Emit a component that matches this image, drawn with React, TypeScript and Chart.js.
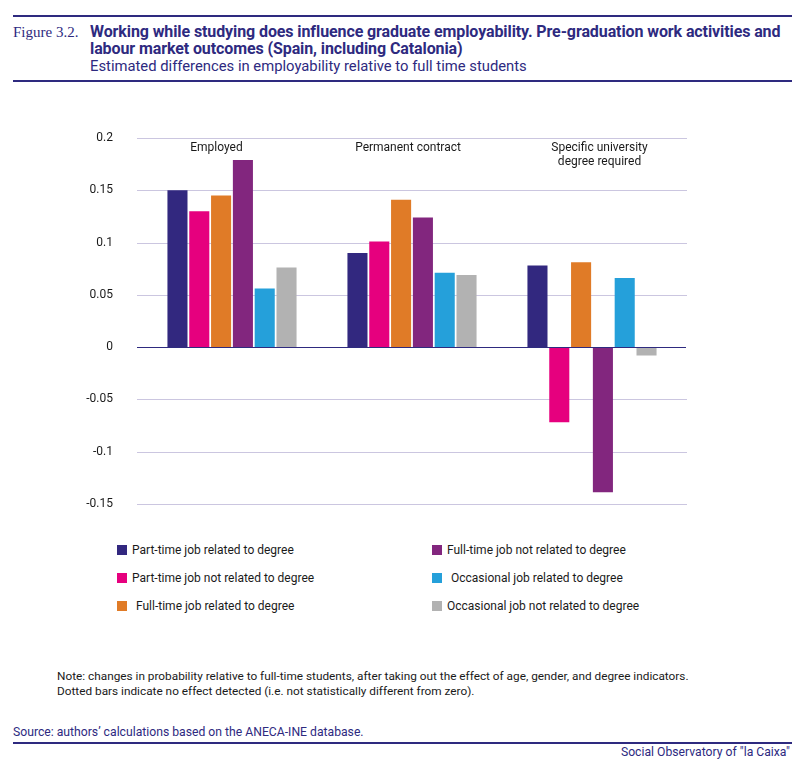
import { useEffect, useRef } from 'react';
import { Chart, registerables } from 'chart.js';

Chart.register(...registerables);

const categories = ['Employed', 'Permanent contract', 'Specific university degree required'];
const categoryLines = [['Employed'], ['Permanent contract'], ['Specific university', 'degree required']];

const seriesNames = [
  'Part-time job related to degree',
  'Part-time job not related to degree',
  'Full-time job related to degree',
  'Full-time job not related to degree',
  'Occasional job related to degree',
  'Occasional job not related to degree',
];
const seriesColors = ['#32287f', '#e6007e', '#e07b27', '#82267e', '#25a0da', '#b2b2b2'];

const partTimeRelated = [0.15, 0.09, 0.078];
const partTimeNotRelated = [0.13, 0.101, -0.072];
const fullTimeRelated = [0.145, 0.141, 0.081];
const fullTimeNotRelated = [0.179, 0.124, -0.139];
const occasionalRelated = [0.056, 0.071, 0.066];
const occasionalNotRelated = [0.076, 0.069, -0.008];

const seriesValues = [
  partTimeRelated,
  partTimeNotRelated,
  fullTimeRelated,
  fullTimeNotRelated,
  occasionalRelated,
  occasionalNotRelated,
];

const yMin = -0.15;
const yMax = 0.2;
const yStep = 0.05;

const NAVY = '#2e2a7f';
const FONT = 'Roboto, "Liberation Sans", sans-serif';

// grid lines that run a little past the plot edges, zero line in navy
const gridPlugin = {
  id: 'gridLines',
  beforeDatasetsDraw(chart: any) {
    const { ctx, chartArea, scales } = chart;
    const ys = scales.y;
    ctx.save();
    ys.ticks.forEach((t: any) => {
      const y = Math.round(ys.getPixelForValue(t.value)) + 0.5;
      if (Math.abs(t.value) < 1e-9) return;
      ctx.strokeStyle = '#cbc6e0';
      ctx.lineWidth = 1;
      ctx.beginPath();
      ctx.moveTo(chartArea.left - 5, y);
      ctx.lineTo(chartArea.right + 5, y);
      ctx.stroke();
    });
    ctx.restore();
  },
  afterDatasetsDraw(chart: any) {
    const { ctx, chartArea, scales } = chart;
    const y = Math.round(scales.y.getPixelForValue(0)) + 0.5;
    ctx.save();
    ctx.strokeStyle = NAVY;
    ctx.lineWidth = 1.2;
    ctx.beginPath();
    ctx.moveTo(chartArea.left - 5, y);
    ctx.lineTo(chartArea.right + 4, y);
    ctx.stroke();
    ctx.restore();
  },
};

// category titles written inside the plot, under the top grid line
const categoryLabelPlugin = {
  id: 'categoryLabels',
  afterDraw(chart: any) {
    const { ctx, chartArea } = chart;
    const mid = (chartArea.left + chartArea.right) / 2 - 4;
    const spread = 191.5;
    ctx.save();
    ctx.font = `12px ${FONT}`;
    ctx.fillStyle = '#1a1a1a';
    ctx.textAlign = 'center';
    ctx.textBaseline = 'middle';
    categoryLines.forEach((lines, i) => {
      lines.forEach((line, j) => {
        ctx.fillText(line, mid + (i - 1) * spread, chartArea.top + 10 + j * 14);
      });
    });
    ctx.restore();
  },
};

function BarChart() {
  const canvasRef = useRef<HTMLCanvasElement>(null);
  const chartRef = useRef<any>(null);

  useEffect(() => {
    if (!canvasRef.current) return;
    if (chartRef.current) chartRef.current.destroy();
    const ctx = canvasRef.current.getContext('2d');
    if (!ctx) return;

    chartRef.current = new Chart(ctx, {
      type: 'bar',
      data: {
        labels: categories,
        datasets: seriesNames.map((name, i) => ({
          label: name,
          data: seriesValues[i],
          backgroundColor: seriesColors[i],
          borderWidth: 0,
          categoryPercentage: 0.727,
          barPercentage: 0.92,
        })),
      },
      options: {
        animation: false,
        responsive: false,
        maintainAspectRatio: false,
        layout: { padding: { top: 38, bottom: 16, right: 118, left: 0 } },
        plugins: {
          legend: { display: false },
          tooltip: { enabled: false },
        },
        scales: {
          x: {
            display: false,
          },
          y: {
            min: yMin,
            max: yMax,
            grid: { display: false, drawTicks: false },
            border: { display: false },
            afterFit(axis: any) {
              axis.width = 142;
            },
            ticks: {
              stepSize: yStep,
              padding: 29,
              color: '#1a1a1a',
              font: { family: FONT, size: 12 },
              callback: (v: any) => String(Number(Number(v).toFixed(2))),
            },
          },
        },
      },
      plugins: [gridPlugin, categoryLabelPlugin],
    });

    return () => {
      if (chartRef.current) {
        chartRef.current.destroy();
        chartRef.current = null;
      }
    };
  }, []);

  return <canvas ref={canvasRef} width={800} height={440} style={{ position: 'absolute', left: 0, top: 100 }} />;
}

export default function App() {
  const legendRows = [
    [0, 3],
    [1, 4],
    [2, 5],
  ];
  return (
    <div style={{ position: 'absolute', left: 0, top: 0, width: 800, height: 768, background: '#fff', fontFamily: FONT, overflow: 'hidden' }}>
      <div style={{ position: 'absolute', left: 13, top: 15, width: 779, height: 2, background: NAVY }} />
      <div style={{ position: 'absolute', left: 13, top: 24, fontFamily: '"Liberation Serif", "DejaVu Serif", serif', fontSize: 15, color: NAVY }}>
        Figure 3.2.
      </div>
      <div style={{ position: 'absolute', left: 90, top: 23, width: 696, fontSize: 16, fontWeight: 700, color: NAVY, lineHeight: '17px', letterSpacing: -0.1 }}>
        Working while studying does influence graduate employability. Pre-graduation work activities and labour market outcomes (Spain, including Catalonia)
      </div>
      <div style={{ position: 'absolute', left: 90, top: 57, fontSize: 14.8, color: NAVY }}>
        Estimated differences in employability relative to full time students
      </div>
      <div style={{ position: 'absolute', left: 13, top: 80, width: 779, height: 2, background: NAVY }} />

      <BarChart />

      {legendRows.map((row, r) =>
        row.map((si, c) => (
          <div key={si} style={{ position: 'absolute', left: c === 0 ? 117 : 432, top: 542 + r * 28, height: 16, display: 'flex', alignItems: 'center', fontSize: 12, color: '#1a1a1a' }}>
            <span style={{ display: 'inline-block', width: 10, height: 10, background: seriesColors[si], marginRight: si === 2 || si === 4 ? 9 : 5 }} />
            <span>{seriesNames[si]}</span>
          </div>
        ))
      )}

      <div style={{ position: 'absolute', left: 57, top: 669, fontSize: 11.8, color: '#1a1a1a', lineHeight: '15px' }}>
        Note: changes in probability relative to full-time students, after taking out the effect of age, gender, and degree indicators.
        <br />
        Dotted bars indicate no effect detected (i.e. not statistically different from zero).
      </div>

      <div style={{ position: 'absolute', left: 13, top: 725, fontSize: 12.2, color: NAVY }}>
        Source: authors’ calculations based on the ANECA-INE database.
      </div>
      <div style={{ position: 'absolute', left: 13, top: 742, width: 779, height: 2, background: NAVY }} />
      <div style={{ position: 'absolute', right: 10, top: 745, fontSize: 12.2, color: NAVY }}>
        Social Observatory of "la Caixa"
      </div>
    </div>
  );
}
